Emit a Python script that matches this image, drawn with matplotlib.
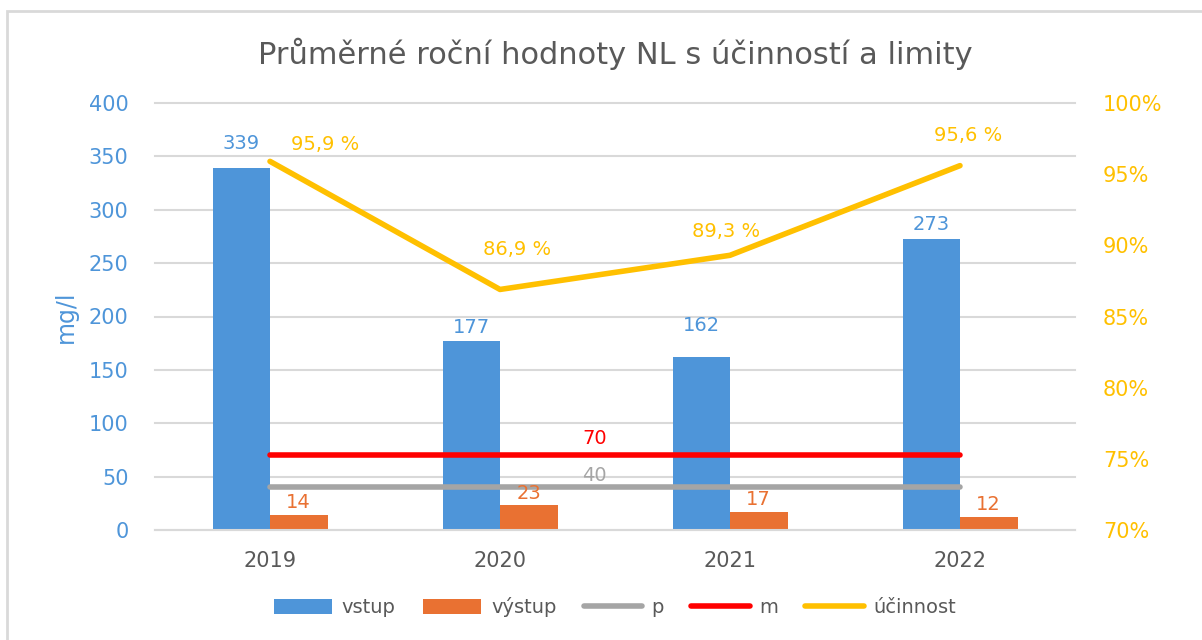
# Průměrné roční hodnoty NL - bars for vstup/výstup, limit lines p and m, účinnost on 2nd axis

import numpy as np
import matplotlib.pyplot as plt
from matplotlib.patches import Rectangle

plt.rcParams['font.family'] = ['DejaVu Sans']

years = ['2019', '2020', '2021', '2022']
vstup = [339, 177, 162, 273]
vystup = [14, 23, 17, 12]
limit_p = [40, 40, 40, 40]
limit_m = [70, 70, 70, 70]
ucinnost = [95.9, 86.9, 89.3, 95.6]
ucinnost_labels = ['95,9 %', '86,9 %', '89,3 %', '95,6 %']

# colours
c_blue = '#4E95D9'
c_orange = '#E97132'
c_gray = '#A5A5A5'
c_red = '#FF0000'
c_yellow = '#FFC000'
c_text = '#595959'

fig = plt.figure(figsize=(12.02, 6.4), dpi=100)
fig.patches.append(Rectangle((7 / 1202, -0.05), 1.2, (640 - 11) / 640 + 0.05,
                             transform=fig.transFigure, fill=False,
                             edgecolor='#D9D9D9', linewidth=2))

ax = fig.add_axes([155 / 1202, 110 / 640, 920 / 1202, 427 / 640])
ax2 = ax.twinx()

x = np.arange(len(years))
w = 0.25
b1 = ax.bar(x - w / 2, vstup, w, color=c_blue, label='vstup', zorder=2)
b2 = ax.bar(x + w / 2, vystup, w, color=c_orange, label='výstup', zorder=2)
lp, = ax.plot(x, limit_p, color=c_gray, lw=4, solid_capstyle='round', label='p', zorder=3)
lm, = ax.plot(x, limit_m, color=c_red, lw=4, solid_capstyle='round', label='m', zorder=3)
lu, = ax2.plot(x, ucinnost, color=c_yellow, lw=4, solid_capstyle='round', label='účinnost')

ax.set_xlim(-0.5, 3.5)
ax.set_ylim(0, 400)
ax.set_yticks(range(0, 401, 50))
ax2.set_ylim(70, 100)
ax2.set_yticks(range(70, 101, 5))
ax2.set_yticklabels([f'{v}%' for v in range(70, 101, 5)])

ax.set_xticks(x)
ax.set_xticklabels(years)
ax.grid(axis='y', color='#D9D9D9', lw=1.5, zorder=0, clip_on=False)
ax.set_axisbelow(True)
for a in (ax, ax2):
    for s in a.spines.values():
        s.set_visible(False)
    a.tick_params(length=0)
ax.spines['bottom'].set_visible(True)
ax.spines['bottom'].set_color('#D9D9D9')
ax.spines['bottom'].set_linewidth(1.5)

ax.tick_params(axis='y', colors=c_blue, labelsize=15, pad=19)
ax.tick_params(axis='x', colors=c_text, labelsize=15, pad=15)
ax2.tick_params(axis='y', colors=c_yellow, labelsize=15, pad=20)
ax.set_ylabel('mg/l', color=c_blue, fontsize=17, labelpad=8)

ax.set_title('Průměrné roční hodnoty NL s účinností a limity', color=c_text,
             fontsize=22, pad=28)

# data labels (gaps above the bars differ, as in the original chart)
vstup_offsets = [11, 3, 16, 3]
for xi, v, dy in zip(x, vstup, vstup_offsets):
    ax.annotate(str(v), (xi - w / 2, v), xytext=(0, dy), textcoords='offset points',
                ha='center', va='bottom', color=c_blue, fontsize=14)
for xi, v in zip(x, vystup):
    ax.annotate(str(v), (xi + w / 2, v), xytext=(0, 2), textcoords='offset points',
                ha='center', va='bottom', color=c_orange, fontsize=14)
ax.annotate(str(limit_m[1]), (1.41, limit_m[1]), xytext=(0, 5), textcoords='offset points',
            ha='center', va='bottom', color=c_red, fontsize=14)
ax.annotate(str(limit_p[1]), (1.41, limit_p[1]), xytext=(0, 2), textcoords='offset points',
            ha='center', va='bottom', color=c_gray, fontsize=14)

label_offsets = [(40, 12), (12, 29), (-3, 17), (6, 22)]
for xi, v, t, off in zip(x, ucinnost, ucinnost_labels, label_offsets):
    ax2.annotate(t, (xi, v), xytext=off, textcoords='offset points',
                 ha='center', va='center', color=c_yellow, fontsize=14)

handles = [b1, b2, lp, lm, lu]
fig.legend(handles, [h.get_label() for h in handles], loc='center',
           bbox_to_anchor=(615 / 1202, 1 - 607 / 640), ncol=5, frameon=False,
           fontsize=14, labelcolor=c_text, handlelength=3.0, handleheight=0.8,
           columnspacing=1.4, handletextpad=0.5)

fig.savefig('out.png', dpi=100)
